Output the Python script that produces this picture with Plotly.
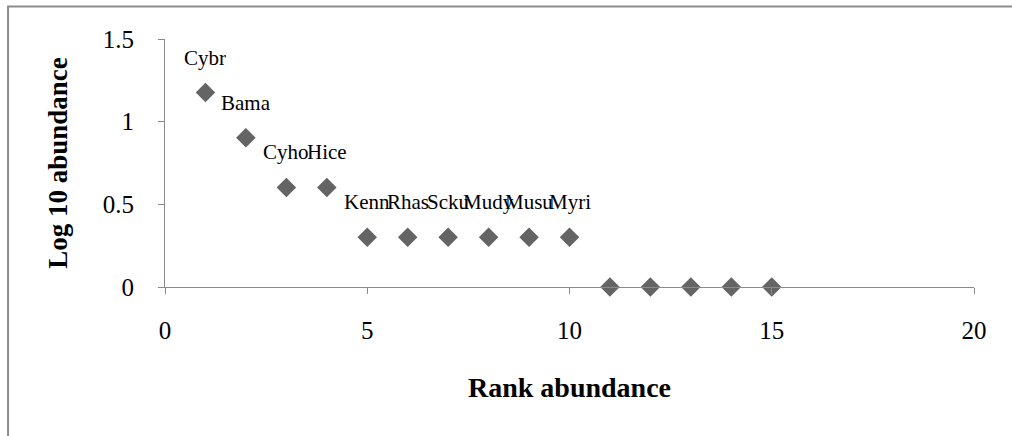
import plotly.graph_objects as go

# Rank-abundance data: species rank vs log10 of abundance
rank = [1, 2, 3, 4, 5, 6, 7, 8, 9, 10, 11, 12, 13, 14, 15]
log_abundance = [1.176, 0.903, 0.602, 0.602, 0.301, 0.301, 0.301, 0.301,
                 0.301, 0.301, 0, 0, 0, 0, 0]
species = ["Cybr", "Bama", "Cyho", "Hice", "Kenn", "Rhas", "Scku", "Mudy",
           "Musu", "Myri"]

x_ticks = [0, 5, 10, 15, 20]
y_ticks = [0, 0.5, 1, 1.5]

serif = "Liberation Serif, Times New Roman, serif"
axis_grey = "#8a8a8a"

fig = go.Figure()
fig.add_trace(go.Scatter(
    x=rank, y=log_abundance, mode="markers",
    marker=dict(symbol="diamond", size=15, color="#646464"),
    cliponaxis=False, hoverinfo="x+y", showlegend=False,
))

# Species codes written above the first ten ranks
for xv, yv, name in zip(rank, log_abundance, species):
    fig.add_annotation(x=xv, y=yv, text=name, showarrow=False, yshift=35,
                       font=dict(family=serif, size=21, color="#000000"))

# Outer chart frame
fig.add_shape(type="rect", xref="paper", yref="paper",
              x0=-0.194, x1=2, y0=-2, y1=1.131,
              line=dict(color="#8c8c8c", width=2), layer="below")

fig.update_layout(
    width=1012, height=436,
    margin=dict(l=165, r=38, t=39, b=149),
    paper_bgcolor="white", plot_bgcolor="white",
    font=dict(family=serif, color="#000000"),
    xaxis=dict(
        range=[0, 20], tickvals=x_ticks, ticktext=[str(v) for v in x_ticks],
        showgrid=False, zeroline=False, showline=True, linecolor=axis_grey,
        linewidth=1, ticks="outside", ticklen=6, tickcolor=axis_grey,
        tickfont=dict(family=serif, size=25), ticklabelstandoff=15,
        title=dict(text="<b>Rank abundance</b>", standoff=34,
                   font=dict(family=serif, size=28)),
    ),
    yaxis=dict(
        range=[0, 1.5], tickvals=y_ticks, ticktext=["0", "0.5", "1", "1.5"],
        showgrid=False, zeroline=False, showline=True, linecolor=axis_grey,
        linewidth=1, ticks="outside", ticklen=6, tickcolor=axis_grey,
        tickfont=dict(family=serif, size=25), ticklabelstandoff=19,
        title=dict(text="<b>Log 10 abundance</b>", standoff=27,
                   font=dict(family=serif, size=27)),
    ),
)

fig.write_html("out.html")
